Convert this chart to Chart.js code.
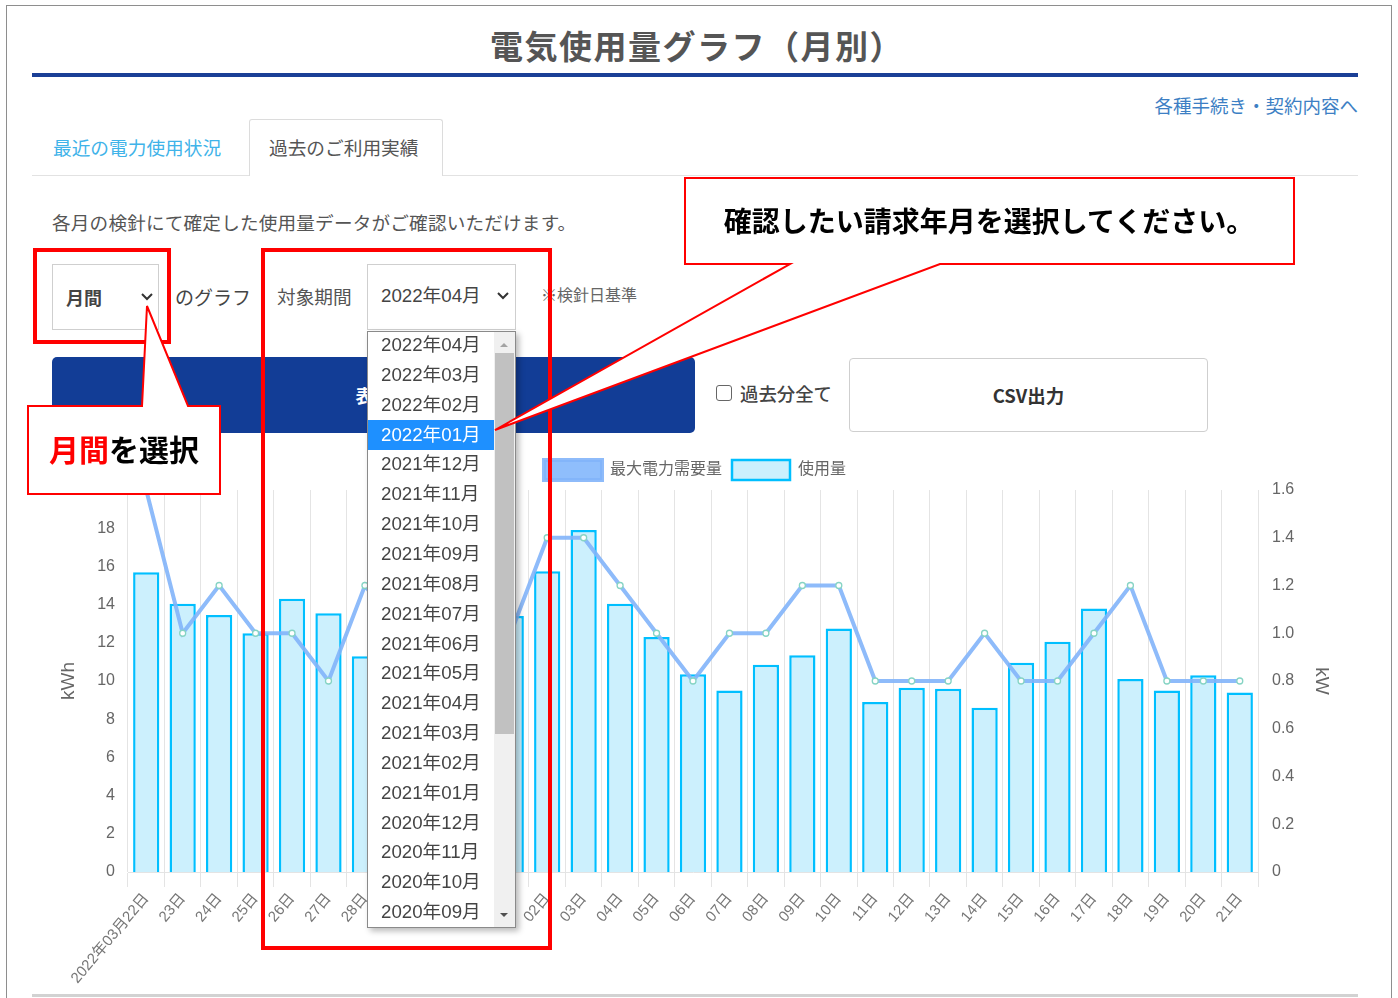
<!DOCTYPE html>
<html lang="ja">
<head>
<meta charset="utf-8">
<script src="https://cdn.jsdelivr.net/npm/chart.js@4/dist/chart.umd.min.js"></script>
<style>
  html, body { margin:0; padding:0; background:#fff; }
  body { width:1398px; height:998px; overflow:hidden; position:relative; font-family:'Noto Sans CJK JP', sans-serif; }
  .abs { position:absolute; white-space:nowrap; }
  .frame { position:absolute; left:6px; top:5px; width:1386px; height:1000px; border:1px solid #8e8e8e; box-sizing:border-box; }
  .txt { position:absolute; white-space:nowrap; color:#555; }
  #chartWrap { position:absolute; left:40px; top:440px; width:1310px; height:550px; }
  #dropdown { position:absolute; left:367px; top:331px; width:149px; height:597px; border:1px solid #8a8a8a; background:#fff; box-sizing:border-box; box-shadow:3px 3px 6px rgba(0,0,0,0.28); overflow:hidden; z-index:5; font-family:'Liberation Sans','Noto Sans CJK JP',sans-serif; }
  .item { position:absolute; left:0; width:126px; height:30px; line-height:30px; font-size:18.7px; color:#444; padding-left:13px; box-sizing:border-box; }
  .item.sel { background:#1e90ff; color:#fff; }
  #overlay { position:absolute; left:0; top:0; z-index:10; }
</style>
</head>
<body>
<div class="frame"></div>

<!-- header -->
<div class="txt" style="left:490px;top:25px;height:40px;line-height:40px;font-size:33px;letter-spacing:1.5px;font-weight:bold;color:#555;">電気使用量グラフ（月別）</div>
<div class="abs" style="left:32px;top:73px;width:1326px;height:4px;background:#1a3f96;"></div>
<div class="txt" style="right:40px;top:92px;height:26px;line-height:26px;font-size:18.5px;color:#3d7fc4;">各種手続き・契約内容へ</div>

<!-- tabs -->
<div class="abs" style="left:32px;top:175px;width:1326px;height:1px;background:#e2e2e2;"></div>
<div class="txt" style="left:53px;top:134px;height:26px;line-height:26px;font-size:18.7px;color:#3fb3e9;">最近の電力使用状況</div>
<div class="abs" style="left:249px;top:119px;width:194px;height:57px;border:1px solid #dcdcdc;border-bottom:none;border-radius:3px 3px 0 0;background:#fff;box-sizing:border-box;"></div>
<div class="txt" style="left:269px;top:134px;height:26px;line-height:26px;font-size:18.7px;color:#555;">過去のご利用実績</div>

<div class="txt" style="left:52px;top:209px;height:26px;line-height:26px;font-size:18.6px;letter-spacing:0.2px;color:#555;">各月の検針にて確定した使用量データがご確認いただけます。</div>

<!-- controls -->
<div class="abs" style="left:52px;top:264px;width:107px;height:66px;border:1px solid #cfcfcf;box-sizing:border-box;background:#fff;"></div>
<div class="txt" style="left:66px;top:284px;height:26px;line-height:26px;font-size:18px;font-weight:bold;color:#444;">月間</div>
<svg class="abs" style="left:140px;top:292px;" width="14" height="10"><polyline points="2,2 7,7 12,2" fill="none" stroke="#333" stroke-width="2"/></svg>
<div class="txt" style="left:175px;top:284px;height:26px;line-height:26px;font-size:19px;color:#444;">のグラフ</div>
<div class="txt" style="left:277px;top:283px;height:26px;line-height:26px;font-size:18.7px;color:#555;">対象期間</div>
<div class="abs" style="left:367px;top:264px;width:149px;height:66px;border:1px solid #cfcfcf;box-sizing:border-box;background:#fff;"></div>
<div class="txt" style="left:381px;top:283px;height:26px;line-height:26px;font-size:18.7px;color:#444;font-family:'Liberation Sans','Noto Sans CJK JP',sans-serif;">2022年04月</div>
<svg class="abs" style="left:496px;top:291px;" width="14" height="10"><polyline points="2,2 7,7 12,2" fill="none" stroke="#333" stroke-width="2"/></svg>
<div class="txt" style="left:541px;top:282px;height:24px;line-height:24px;font-size:16px;color:#666;">※検針日基準</div>

<div class="abs" style="left:52px;top:357px;width:643px;height:76px;background:#123d96;border-radius:5px;color:#fff;font-size:18px;font-weight:bold;text-align:center;line-height:76px;">表示</div>
<div class="abs" style="left:716px;top:385px;width:16px;height:16px;border:1px solid #666;border-radius:3px;box-sizing:border-box;background:#fff;"></div>
<div class="txt" style="left:740px;top:380px;height:26px;line-height:26px;font-size:18.4px;color:#444;font-weight:500;">過去分全て</div>
<div class="abs" style="left:849px;top:358px;width:359px;height:74px;border:1px solid #cfcfcf;border-radius:4px;box-sizing:border-box;background:#fff;color:#333;font-size:18.5px;font-weight:bold;text-align:center;line-height:72px;">CSV出力</div>

<div id="chartWrap"><canvas id="chart" width="1310" height="550"></canvas></div>

<div class="abs" style="left:32px;top:994px;width:1326px;height:3px;background:#d2d2d2;"></div>

<div id="dropdown"></div>

<svg id="overlay" width="1398" height="998">
  <rect x="35" y="250" width="134" height="92" fill="none" stroke="#ff0000" stroke-width="4"/>
  <rect x="263" y="250" width="287" height="698" fill="none" stroke="#ff0000" stroke-width="4"/>
  <path d="M28,406 L142,406 L147,306 L188,406 L220,406 L220,494 L28,494 Z" fill="#fff" stroke="#ff0000" stroke-width="2" stroke-linejoin="miter"/>
  <path d="M685,178 L1294,178 L1294,264 L940,264 L495,430 L790,264 L685,264 Z" fill="#fff" stroke="#ff0000" stroke-width="2" stroke-linejoin="miter"/>
  <text x="124" y="461" text-anchor="middle" font-family="'Noto Sans CJK JP',sans-serif" font-weight="bold" font-size="30"><tspan fill="#ff0000">月間</tspan><tspan fill="#000">を選択</tspan></text>
  <text x="989" y="232" text-anchor="middle" font-family="'Noto Sans CJK JP',sans-serif" font-weight="bold" font-size="28" fill="#000">確認したい請求年月を選択してください。</text>
</svg>

<script>
// ---- data ----
const categories = ['2022年03月22日','23日','24日','25日','26日','27日','28日','29日','30日','31日',
  '01日','02日','03日','04日','05日','06日','07日','08日','09日','10日','11日','12日','13日','14日',
  '15日','16日','17日','18日','19日','20日','21日'];
const usageKWh = [15.7,14.05,13.45,12.5,14.3,13.55,11.3,12.0,12.6,13.0,
  13.4,15.75,17.9,14.05,12.3,10.35,9.5,10.85,11.35,12.75,8.9,9.65,9.6,8.6,
  10.95,12.05,13.8,10.1,9.5,10.3,9.4];
const maxDemandKW = [1.6,1.0,1.2,1.0,1.0,0.8,1.2,1.0,1.2,1.0,
  1.0,1.4,1.4,1.2,1.0,0.8,1.0,1.0,1.2,1.2,0.8,0.8,0.8,1.0,
  0.8,0.8,1.0,1.2,0.8,0.8,0.8];
const seriesNames = ['最大電力需要量','使用量'];
const axisTitles = ['kWh','kW'];
const monthOptions = ['2022年04月','2022年03月','2022年02月','2022年01月','2021年12月','2021年11月',
  '2021年10月','2021年09月','2021年08月','2021年07月','2021年06月','2021年05月','2021年04月',
  '2021年03月','2021年02月','2021年01月','2020年12月','2020年11月','2020年10月','2020年09月'];
const selectedMonth = '2022年01月';

// ---- dropdown list ----
const dd = document.getElementById('dropdown');
monthOptions.forEach((m, i) => {
  const d = document.createElement('div');
  d.className = 'item' + (m === selectedMonth ? ' sel' : '');
  d.style.top = (-2 + i * 29.85) + 'px';
  d.textContent = m;
  dd.appendChild(d);
});
dd.insertAdjacentHTML('beforeend',
  '<div style="position:absolute;left:126px;top:0;width:21px;height:597px;background:#f0f0f0;"></div>' +
  '<div style="position:absolute;left:127px;top:21px;width:19px;height:381px;background:#c1c1c1;"></div>' +
  '<svg style="position:absolute;left:130px;top:8px;" width="12" height="8"><polygon points="2,7 6,3 10,7" fill="#a3a3a3"/></svg>' +
  '<svg style="position:absolute;left:130px;top:579px;" width="12" height="8"><polygon points="2,2 6,6 10,2" fill="#505050"/></svg>');

// ---- chart ----
Chart.defaults.font.family = "'Liberation Sans', Arial, 'Noto Sans CJK JP', sans-serif";
Chart.defaults.color = '#666';
new Chart(document.getElementById('chart'), {
  type: 'bar',
  data: {
    labels: categories,
    datasets: [
      { type:'line', label: seriesNames[0], data: maxDemandKW, yAxisID:'y1',
        borderColor:'rgba(130,180,250,0.9)', backgroundColor:'#8fbefc', borderWidth:4,
        pointRadius:3, pointBackgroundColor:'#ffffff', pointBorderColor:'#86d4c4', pointBorderWidth:1.3,
        tension:0, fill:false },
      { type:'bar', label: seriesNames[1], data: usageKWh, yAxisID:'y',
        backgroundColor:'#ccf0fd', borderColor:'#00bfff', borderWidth:2.5 }
    ]
  },
  options: {
    responsive:false, animation:false,
    layout:{ padding:{ top:10, left:0, right:0, bottom:0 } },
    plugins:{
      legend:{ labels:{ boxWidth:58, boxHeight:20, font:{ size:16 }, color:'#666', padding:10 } },
      tooltip:{ enabled:false }
    },
    scales:{
      x:{ grid:{ offset:true, color:'#e4e4e4', tickLength:15 }, border:{ color:'#e4e4e4' },
          ticks:{ autoSkip:false, minRotation:50, maxRotation:50, font:{ size:15 }, color:'#777' },
          afterFit:(s)=>{ s.height = 118; } },
      y:{ position:'left', min:0, max:20,
          ticks:{ stepSize:2, padding:13, font:{ size:16 }, color:'#666' },
          grid:{ display:false, drawTicks:false }, border:{ display:false },
          title:{ display:true, text:axisTitles[0], font:{ size:19 }, color:'#666', padding:{ top:17, bottom:0 } },
          afterFit:(s)=>{ s.width = 88; } },
      y1:{ position:'right', min:0, max:1.6,
          ticks:{ stepSize:0.2, padding:14, font:{ size:16 }, color:'#666' },
          grid:{ display:false, drawTicks:false }, border:{ display:false },
          title:{ display:true, text:axisTitles[1], font:{ size:19 }, color:'#666', padding:{ top:17, bottom:0 } },
          afterFit:(s)=>{ s.width = 92; } }
    }
  }
});
</script>
</body>
</html>
